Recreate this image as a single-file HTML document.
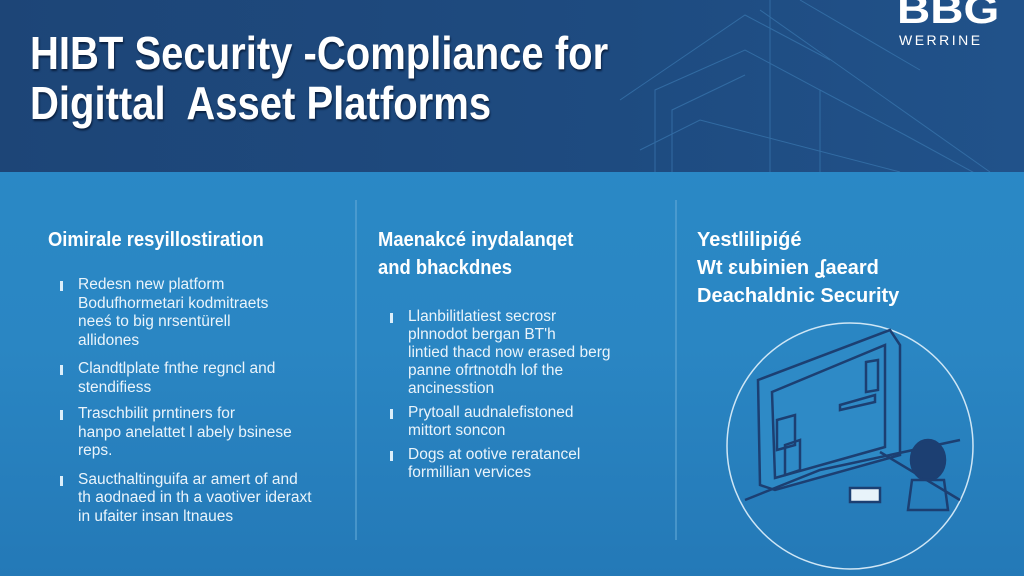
<!DOCTYPE html>
<html><head><style>
body{margin:0;width:1024px;height:576px;overflow:hidden;font-family:"Liberation Sans",sans-serif;color:#fff;position:relative;background:linear-gradient(180deg,#2b8bc8 0%,#2a86c3 60%,#2479b7 100%);}
#hdr{position:absolute;left:0;top:0;width:1024px;height:172px;background:linear-gradient(90deg,#1d4577 0%,#1e4b80 60%,#21528a 100%);}
#hdr .t{position:absolute;left:30px;top:28px;font-size:46px;font-weight:bold;line-height:50px;transform:scaleX(.87);transform-origin:0 0;white-space:nowrap;text-shadow:1px 2px 2px #0a2040;}
.logo{position:absolute;left:897px;top:-12px;font-size:40px;font-weight:bold;transform:scaleX(1.15);transform-origin:0 0}
.logo2{position:absolute;left:899px;top:32px;font-size:14px;letter-spacing:2.5px;}
.div{position:absolute;top:200px;width:2px;height:340px;background:#5fa6d6;opacity:.6}
.col{position:absolute;top:226px;}
.h{font-size:20px;line-height:28px;margin-bottom:22px;font-weight:bold;transform:scaleX(.92);transform-origin:0 0;white-space:nowrap}
.b{position:relative;padding-left:30px;font-size:15.5px;line-height:18.5px;margin-bottom:10px;color:#eaf4fb;white-space:nowrap}
.b:before{content:"";position:absolute;left:12px;top:5px;width:3px;height:10px;background:#dbeefa}
#c2 .b{line-height:18px;margin-bottom:6px}
</style></head><body>
<div id="hdr">
<svg width="1024" height="172" style="position:absolute;left:0;top:0" stroke="#3a78b0" fill="none" stroke-width="1" opacity=".7">
<path d="M620 100 L745 15 L830 60 M655 172 L655 90 L745 50 L820 90 L820 172 M672 172 L672 110 L745 75 M770 172 L770 0 M820 90 L905 135 L1024 200 M800 0 L920 70 M640 150 L700 120 L900 172 M760 10 L990 172"/>
</svg>
<div class="t">HIBT Security -Compliance for<br>Digittal&nbsp; Asset Platforms</div>
<div class="logo">BBG</div><div class="logo2">WERRINE</div>
</div>
<div class="div" style="left:355px"></div>
<div class="div" style="left:675px"></div>
<div class="col" style="left:48px;width:300px">
<div class="h">Oimirale resyillostiration</div>
<div class="b">Redesn new platform<br>Bodufhormetari kodmitraets<br>neeś to big nrsentürell<br>allidones</div>
<div class="b" style="margin-bottom:8px">Clandtlplate fnthe regncl and<br>stendifiess</div>
<div class="b">Traschbilit prntiners for<br>hanpo anelattet l abely bsinese<br>reps.</div>
<div class="b">Saucthaltinguifa ar amert of and<br>th aodnaed in th a vaotiver ideraxt<br>in ufaiter insan ltnaues</div>
</div>
<div class="col" id="c2" style="left:378px;width:290px">
<div class="h">Maenakcé inydalanqet<br>and bhackdnes</div>
<div class="b" style="margin-top:26px">Llanbilitlatiest secrosr<br>plnnodot bergan BT'h<br>lintied thacd now erased berg<br>panne ofrtnotdh lof the<br>ancinesstion</div>
<div class="b">Prytoall audnalefistoned<br>mittort soncon</div>
<div class="b">Dogs at ootive reratancel<br>formillian vervices</div>
</div>
<div class="col" style="left:697px;width:320px">
<div class="h" style="line-height:28px;transform:none">Yestlilipiǵé<br>Wt ɛubinien ʆaeard<br>Deachaldnic Security</div>
</div>
<svg width="1024" height="576" style="position:absolute;left:0;top:0" fill="none" stroke="#1c3f72" stroke-width="2.5">
<circle cx="850" cy="446" r="123" stroke="#cfe6f5" stroke-width="1.5"/>
<path d="M758 380 L890 330 L900 345 L900 455 L775 490 L760 485 Z" fill="#2e8ac6"/>
<path d="M772 392 L885 345 L885 447 L775 478 Z"/>
<path d="M777 420 L795 415 L795 445 L777 450 Z M840 405 L875 395 L875 402 L840 410 Z M866 362 L878 360 L878 390 L866 392 Z M785 445 L800 440 L800 470 L785 475Z"/>
<path d="M745 500 L820 470 L960 440 M880 452 L960 500"/>
<ellipse cx="928" cy="460" rx="17" ry="20" fill="#1c3f72"/>
<path d="M912 480 L944 480 L948 510 L908 510 Z"/>
<rect x="850" y="488" width="30" height="14" fill="#e8f3fa" stroke="#1c3f72"/>
</svg>
</body></html>
